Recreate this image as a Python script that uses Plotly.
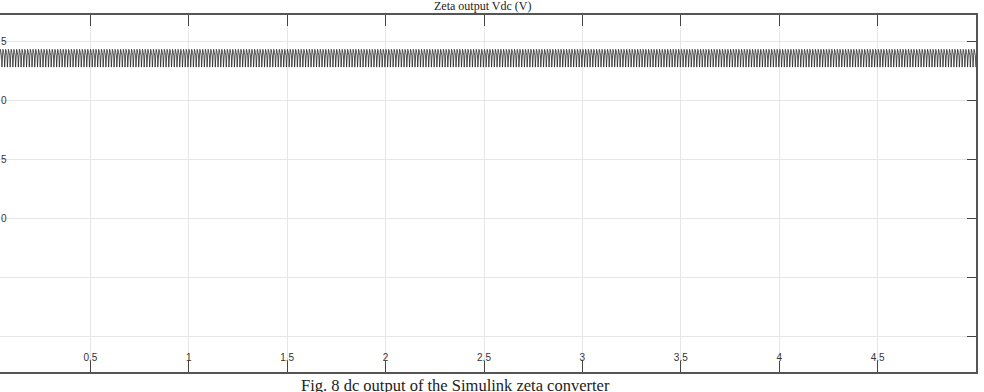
import numpy as np
import plotly.graph_objects as go

# ---- data ----
title_text = "Zeta output Vdc (V)"
caption_text = "Fig. 8 dc output of the Simulink zeta converter"
t_start, t_end = 0.0, 5.0
ripple_period = 0.0139          # s, apparent period of the output ripple
ripple_cycle = [24.3, 24.2, 24.05, 23.9, 23.75, 22.8, 23.5, 24.15]  # V over one period
x_tickvals = [0.5, 1, 1.5, 2, 2.5, 3, 3.5, 4, 4.5]
x_ticktext = ["0.5", "1", "1.5", "2", "2.5", "3", "3.5", "4", "4.5"]
y_tickvals = [0, 5, 10, 15, 20, 25]
y_ticktext = ["", "", "0", "5", "0", "5"]

# build the waveform by repeating the read ripple cycle over the time span
n_per = len(ripple_cycle)
n_cycles = int(np.ceil((t_end - t_start) / ripple_period))
t = t_start + np.arange(n_cycles * n_per) * (ripple_period / n_per)
v = np.tile(ripple_cycle, n_cycles)
mask = t <= t_end
t, v = t[mask], v[mask]

x_range = [0.0407, 5.0]
y_range = [-2.96, 27.2]

fig = go.Figure()
fig.add_trace(go.Scatter(x=t, y=v, mode="lines",
                         line=dict(color="#1e1e1e", width=0.75),
                         showlegend=False, hoverinfo="skip"))
fig.add_trace(go.Scatter(x=[], y=[], yaxis="y2", showlegend=False))

fig.update_layout(
    width=984, height=392,
    margin=dict(l=0, r=8, t=15, b=20),
    paper_bgcolor="white", plot_bgcolor="white",
    xaxis=dict(range=x_range, tickvals=x_tickvals, ticktext=x_ticktext,
               ticks="inside", ticklen=11, tickcolor="#444", tickwidth=1,
               showline=True, linecolor="#555", linewidth=1.5, mirror="ticks",
               showgrid=True, gridcolor="#e6e6e6", gridwidth=1,
               ticklabelposition="inside", ticklabelstandoff=-3, zeroline=False,
               tickfont=dict(family="Liberation Sans", size=10, color="#333")),
    yaxis=dict(range=y_range, tickvals=y_tickvals, ticktext=y_ticktext,
               ticks="", showline=False, showgrid=True, gridcolor="#e6e6e6",
               ticklabelposition="inside", ticklabelstandoff=-2, zeroline=False,
               tickfont=dict(family="Liberation Sans", size=10, color="#333")),
    yaxis2=dict(range=y_range, overlaying="y", side="right",
                tickvals=y_tickvals, ticks="inside", ticklen=9,
                tickcolor="#444", showline=True, linecolor="#555",
                linewidth=1.5, showticklabels=False, showgrid=False,
                zeroline=False),
    annotations=[
        dict(text=title_text, xref="paper", yref="paper", x=0.494, y=1.0,
             xanchor="center", yanchor="bottom", showarrow=False,
             font=dict(family="Liberation Serif", size=12, color="#222")),
        dict(text=caption_text, xref="paper", yref="paper", x=0.467, y=-0.006,
             xanchor="center", yanchor="top", showarrow=False,
             font=dict(family="Liberation Serif", size=16.5, color="#222")),
    ],
)

fig.write_html("out.html")
